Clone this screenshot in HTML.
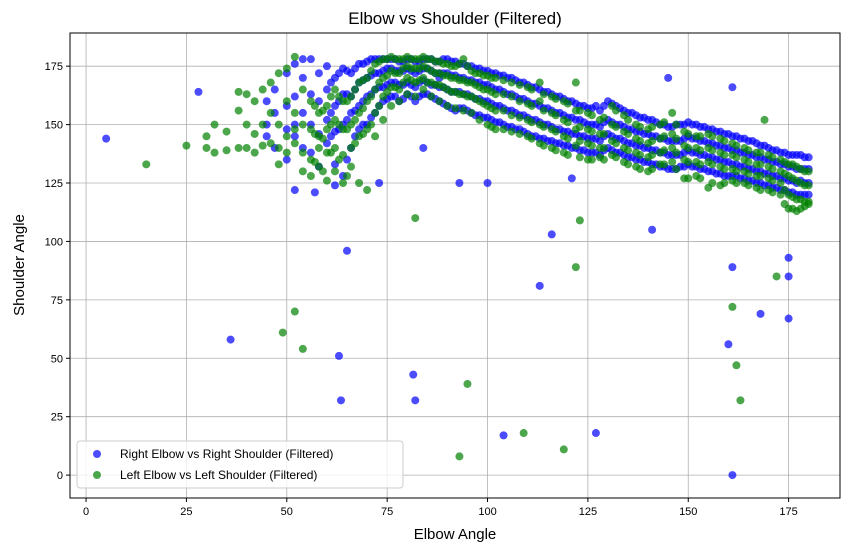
<!DOCTYPE html>
<html><head><meta charset="utf-8"><style>
body{margin:0;background:#fff;}
svg text{font-family:"Liberation Sans","DejaVu Sans",sans-serif;}
</style></head><body>
<svg id="chart" width="854" height="552" xmlns="http://www.w3.org/2000/svg">
<text x="455" y="24" font-size="17" text-anchor="middle">Elbow vs Shoulder (Filtered)</text>
<text x="455" y="539" font-size="15" text-anchor="middle">Elbow Angle</text>
<text x="24" y="265" font-size="15" text-anchor="middle" transform="rotate(-90 24 265)">Shoulder Angle</text>
<g id="grid"></g>
<g id="pts"></g>
<rect x="70" y="33" width="770" height="465" fill="none" stroke="#000" stroke-width="1"/>
<g id="ticks"></g>
<g>
<rect x="77" y="441" width="326" height="47" rx="3" fill="#fff" fill-opacity="0.8" stroke="#ccc"/>
<circle cx="97" cy="454" r="4" fill="#0000ff" fill-opacity="0.7"/>
<text x="120" y="458" font-size="12">Right Elbow vs Right Shoulder (Filtered)</text>
<circle cx="97" cy="475" r="4" fill="#008000" fill-opacity="0.7"/>
<text x="120" y="479" font-size="12">Left Elbow vs Left Shoulder (Filtered)</text>
</g>
</svg>
<script>
const xTicks=[0,25,50,75,100,125,150,175];
const yTicks=[0,25,50,75,100,125,150,175];
// rows: [elbow, shoulder, shoulder, ...]
const rightGroups=[[5,144],[28,164],[36,58],[63,51],[63.5,32],[65,96],[81.5,43],[82,32],[93,125],[100,125],[104,17],[113,81],[116,103],[121,127],[127,18],[141,105],[145,170],[160,56],[161,89],[161,166],[161,0],[168,69],[175,93],[175,85],[175,67],[52,122],[57,121],[62,124],[73,125],[84,140],[88,170],
[45,150,145,160],[47,140,155,165],[50,158,148,135,172],[52,176,162,145,150],[54,170,155,140,178],[56,163,150,138,178],[58,172,160,146,132],[60,165,152,142,175],[62,170,158,147,133],[64,174,163,150,128],[66,172,162,155,140],[68,176,168,158,148],[70,177,170,162,150],[72,178,172,165,155],[74,178,173,166,160],[76,178,174,168,162],[78,177,173,167,160],[80,178,174,168,163],[82,177,172,166,160],[84,178,174,169,163],[86,178,173,167,162],[88,177,172,166,160],[90,178,172,165,158],[92,177,171,164,156],[94,176,170,163,157],[96,175,169,162,155],[98,174,168,161,154],[100,173,167,160,153],[102,172,165,158,151],[104,171,164,157,150],[106,170,163,156,149],[108,168,161,154,148],[110,167,160,153,146],[112,166,159,152,145],[114,164,157,150,144],[116,163,156,149,143],[118,162,155,148,142],[120,160,153,147,141],[122,159,152,146,140],[124,158,151,145,139],[126,157,150,144,138],[128,156,149,143,137],[130,160,152,146,140],[132,158,150,144,138],[134,156,149,143,137],[136,155,148,142,136],[138,153,147,141,135],[140,152,146,140,134],[142,151,145,139,133],[144,150,144,138,132],[146,149,143,137,131],[148,150,143,137,132],[150,151,145,139,133],[152,150,144,138,132],[154,149,143,137,131],[156,148,142,136,130],[158,147,141,135,129],[160,146,140,134,128],[162,145,139,133,128],[164,144,138,132,127],[166,143,137,131,126],[168,141,136,130,125],[170,140,135,129,124],[172,139,134,128,123],[174,138,133,127,122],[176,137,132,126,121],[178,137,131,126,120],[180,136,131,125,120],
[61,168,155,145],[63,172,160,148],[65,173,163,152,135],[67,174,165,156,145],[69,176,169,160,150],[71,178,171,163,153],[73,178,172,166,158],[75,178,174,167,161],[77,178,173,168,162],[79,177,173,167,161],[81,178,173,167,162],[83,177,173,168,162],[85,178,174,168,163],[87,177,172,167,161],[89,178,172,166,159],[91,177,171,164,157],[93,176,170,164,157],[95,175,169,163,156],[97,174,168,161,154],[99,173,167,160,153],[101,172,166,159,152],[103,171,165,158,151],[105,170,163,156,149],[107,169,162,155,148],[109,168,161,154,147],[111,166,159,152,145],[113,165,158,151,144],[115,164,157,150,143],[117,162,155,148,142],[119,161,154,147,141],[121,160,153,146,140],[123,158,152,145,139],[125,157,150,144,138],[127,158,150,144,138],[129,158,151,145,139],[131,159,151,145,139],[133,157,150,144,138],[135,155,148,142,136],[137,154,147,141,135],[139,153,146,140,134],[141,152,145,139,133],[143,150,144,138,132],[145,149,143,137,131],[147,150,143,137,131],[149,150,144,138,132],[151,150,144,138,132],[153,149,143,137,131],[155,148,142,136,130],[157,147,141,135,129],[159,146,140,134,128],[161,145,139,133,128],[163,144,138,132,127],[165,143,137,131,126],[167,142,136,130,125],[169,141,135,129,124],[171,139,134,128,123],[173,138,133,127,122],[175,137,132,126,121],[177,137,131,125,120],[179,136,131,125,120]];
const leftGroups=[[15,133],[25,141],[49,61],[52,70],[54,54],[82,110],[93,8],[95,39],[109,18],[119,11],[122,89],[123,109],[161,72],[162,47],[163,32],[169,152],[172,85],
[30,140,145],[32,138,150],[35,147,139],[38,156,140,164],[40,163,150,140],[42,160,146,138],[44,165,150,141],[46,168,155,142],[48,150,140,133,172],[50,160,145,138,174],[52,179,155,142,148],[54,165,150,138,130],[56,160,148,135,128],[58,155,145,132,140],[60,158,148,138,126],[62,165,152,140,130],[64,160,148,137,125],[66,162,150,140,132],[68,168,155,145,125],[70,170,160,148,122],[72,176,165,155,145],[74,178,170,162,152],[76,179,173,166,158],[78,178,172,165,160],[80,179,175,170,163],[82,178,174,168,162],[84,179,175,170,165],[86,178,173,168,162],[88,177,172,167,160],[90,176,171,165,158],[92,175,170,164,157],[94,178,169,163,156],[96,173,168,162,155],[98,172,166,160,152],[100,171,165,158,150],[104,169,163,156,148],[106,168,162,154,147],[110,166,159,152,145],[113,168,160,150,142],[116,162,155,148,140],[119,160,152,145,138],[122,168,156,148,141],[125,155,148,142,135],[128,152,146,140,136],[131,158,150,143,137],[134,154,147,140,134],[137,150,144,138,132],[140,148,142,136,130],[143,150,144,138,133],[146,155,146,140,134],[149,147,141,135,127],[152,145,140,134,128],[155,146,140,134,123],[158,144,138,132,124],[161,142,137,131,126],[164,140,135,130,125],[167,138,133,128,123],[170,137,132,127,122],[173,135,130,125,120],[175,133,128,120,114],[177,132,126,118,113],[179,130,124,117,115],
[101,170,164,157,149],[102,170,163,156,148],[108,167,160,153,146],[111,165,158,151,144],[114,163,156,149,141],[117,161,154,147,139],[120,159,151,144,137],[123,156,149,143,136],[126,154,147,141,135],[129,153,146,140,135],[132,156,149,142,136],[135,152,146,139,133],[138,149,143,137,131],[141,149,143,137,131],[144,151,145,139,133],[147,150,144,138,131],[150,146,140,134,127],[153,145,139,133,127],[156,145,139,133,125],[159,143,137,131,125],[162,141,136,130,125],[165,139,134,129,124],[168,138,133,128,122],[171,136,131,126,121],[174,134,129,122,116],[176,133,127,119,114],[178,131,125,118,114],[180,130,124,117,116],
[57,158,146,134],[59,156,144,130],[61,162,150,138],[63,162,150,135],[65,160,148,128],[67,165,152,142],[69,169,157,146],[71,173,162,150],[73,177,168,158],[75,178,171,164],[77,178,172,166],[79,178,174,168],[81,178,174,169],[83,178,174,169],[85,178,174,168],[87,177,172,167],[89,176,171,166],[91,175,170,164],[93,176,169,163],[95,175,168,162],[97,172,167,161],[99,171,165,159]];
const NS='http://www.w3.org/2000/svg';
const X0=70,X1=840,Y0=498,Y1=33,xMin=-4,xMax=187.8,yMin=-9.8,yMax=189.2;
function sx(v){return X0+(v-xMin)/(xMax-xMin)*(X1-X0);}
function sy(v){return Y0-(v-yMin)/(yMax-yMin)*(Y0-Y1);}
function mk(t,a,p){const e=document.createElementNS(NS,t);for(const k in a)e.setAttribute(k,a[k]);p.appendChild(e);return e;}
const grid=document.getElementById('grid'),ticks=document.getElementById('ticks'),pts=document.getElementById('pts');
xTicks.forEach(v=>{const x=sx(v);
 const g=mk('line',{x1:x,x2:x,y1:Y1,y2:Y0,stroke:'#b0b0b0','stroke-width':0.8},grid);
 
 
 mk('line',{x1:x,x2:x,y1:Y0,y2:Y0+4,stroke:'#000'},ticks);
 const t=mk('text',{x:x,y:Y0+17,'font-size':11,'text-anchor':'middle'},ticks);t.textContent=v;
 
 });
yTicks.forEach(v=>{const y=sy(v);
 const g=mk('line',{x1:X0,x2:X1,y1:y,y2:y,stroke:'#b0b0b0','stroke-width':0.8},grid);
 
 
 mk('line',{x1:X0-4,x2:X0,y1:y,y2:y,stroke:'#000'},ticks);
 const t=mk('text',{x:X0-7,y:y+4,'font-size':11,'text-anchor':'end'},ticks);t.textContent=v;
 
 });
function draw(groups,color,name){groups.forEach(r=>{for(let i=1;i<r.length;i++){
 const c=mk('circle',{cx:sx(r[0]),cy:sy(r[i]),r:4,fill:color,'fill-opacity':0.7},pts);
 
 }});}
draw(rightGroups,'#0000ff','right-point');
draw(leftGroups,'#008000','left-point');
</script>
</body></html>
